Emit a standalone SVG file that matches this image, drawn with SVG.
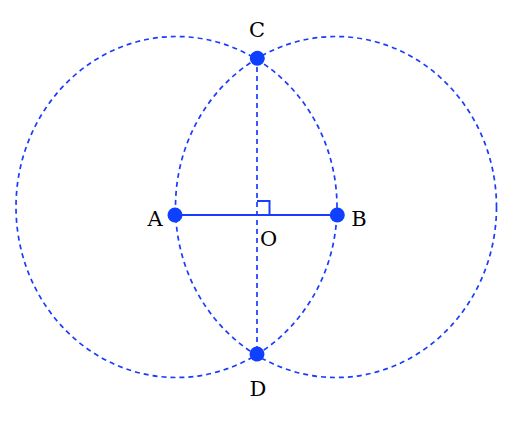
<svg xmlns="http://www.w3.org/2000/svg" width="522" height="444" viewBox="0 0 522 444">
<style>
.circ{fill:none;stroke:#1a3cff;stroke-width:1.7;stroke-dasharray:5 4}
.dash{fill:none;stroke:#1a3cff;stroke-width:1.7;stroke-dasharray:5 4}
.solid{fill:none;stroke:#1a3cff;stroke-width:2}
.dot{fill:#1040ff}
.lbl{font-family:"DejaVu Serif","Liberation Serif",serif;font-size:21px;fill:#000;text-anchor:middle}
</style>
<rect width="522" height="444" fill="#fff"/>
<g id="circles">
<ellipse class="circ" cx="176.5" cy="207" rx="160.5" ry="170.5"/>
<ellipse class="circ" cx="336" cy="207" rx="160.5" ry="170.5"/>
</g>
<g id="connectors">
<line class="solid" x1="175" y1="215" x2="337" y2="215"/>
<line class="dash" x1="257" y1="58" x2="257" y2="354"/>
<path class="solid" d="M257,201 H269.5 V215" stroke-width="1.6"/>
</g>
<g id="A"><circle class="dot" cx="175" cy="215" r="7.5"/><text class="lbl" x="155" y="225.5">A</text></g>
<g id="B"><circle class="dot" cx="337.3" cy="215" r="7.5"/><text class="lbl" x="359" y="225.5">B</text></g>
<g id="C"><circle class="dot" cx="257.3" cy="58.3" r="7.5"/><text class="lbl" x="257" y="36.5">C</text></g>
<g id="D"><circle class="dot" cx="257" cy="354" r="7.5"/><text class="lbl" x="258" y="395.5">D</text></g>
<g id="O"><text class="lbl" x="268.7" y="245.5">O</text></g>
</svg>
